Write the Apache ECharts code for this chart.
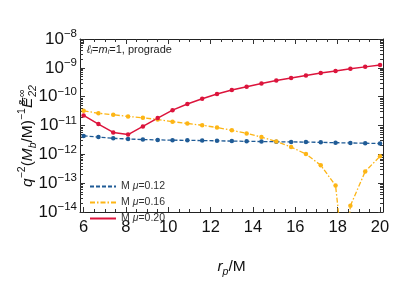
<!DOCTYPE html>
<html><head><meta charset="utf-8">
<script src="https://cdn.jsdelivr.net/npm/echarts@6/dist/echarts.min.js"></script>
<style>html,body{margin:0;padding:0;background:#fff}#c{width:399px;height:283px}</style>
</head><body><div id="c"></div>
<script>
// ---- data ----
const rp = [6.0, 6.7, 7.4, 8.1, 8.8, 9.5, 10.2, 10.9, 11.6, 12.3, 13.0, 13.7, 14.4, 15.1, 15.8, 16.5, 17.2, 17.9, 18.6, 19.3, 20.0];
const mu012 = [4.36e-12, 3.96e-12, 3.60e-12, 3.42e-12, 3.25e-12, 3.17e-12, 3.10e-12, 3.05e-12, 3.01e-12, 2.94e-12, 2.88e-12, 2.82e-12, 2.78e-12, 2.74e-12, 2.70e-12, 2.66e-12, 2.60e-12, 2.54e-12, 2.48e-12, 2.43e-12, 2.36e-12];
const mu016 = [3.23e-11, 2.66e-11, 2.35e-11, 2.07e-11, 1.84e-11, 1.62e-11, 1.36e-11, 1.18e-11, 1.02e-11, 8.51e-12, 6.81e-12, 5.33e-12, 3.96e-12, 2.80e-12, 1.79e-12, 1.02e-12, 4.20e-13, 8.22e-14, 1.64e-14, 2.55e-13, 8.55e-13];
const mu020 = [2.23e-11, 1.12e-11, 5.74e-12, 4.84e-12, 9.30e-12, 1.81e-11, 3.40e-11, 5.58e-11, 8.46e-11, 1.23e-10, 1.70e-10, 2.22e-10, 2.85e-10, 3.64e-10, 4.45e-10, 5.40e-10, 6.59e-10, 7.81e-10, 9.33e-10, 1.08e-9, 1.26e-9];
// zero crossing of the mu=0.16 curve (goes below the plot range)
const mu016ZeroX = 18.33;
const mu016ZeroY = 1e-16;
const names = ['M μ=0.12', 'M μ=0.16', 'M μ=0.20'];
const legendLabels = ['{n|M }{i|μ}{n|=0.12}', '{n|M }{i|μ}{n|=0.16}', '{n|M }{i|μ}{n|=0.20}'];
const xTickLabels = [6, 8, 10, 12, 14, 16, 18, 20];
const xMinorTicks = [6, 6.5, 7, 7.5, 8, 8.5, 9, 9.5, 10, 10.5, 11, 11.5, 12, 12.5, 13, 13.5, 14, 14.5, 15, 15.5, 16, 16.5, 17, 17.5, 18, 18.5, 19, 19.5, 20];
const yExps = [-14, -13, -12, -11, -10, -9, -8];
const colors = ['#1f5b96', '#fdb515', '#dc143c'];

const FONT = 'Liberation Sans';
const yMajor = yExps.map(e => Math.pow(10, e));
const yMinor = [];
yExps.slice(0, -1).forEach(e => { for (let k = 2; k <= 9; k++) yMinor.push(k * Math.pow(10, e)); });

const xr = {min: 5.83, max: 20.14};
const frame = {lineStyle: {color: '#222', width: 1}};
function xAx(pos, ticks, len, main) {
  return {
    type: 'value', position: pos, min: xr.min, max: xr.max,
    axisLine: main ? Object.assign({show: true}, frame) : {show: false},
    axisTick: {show: true, inside: true, length: len, customValues: ticks, lineStyle: {color: '#333'}},
    axisLabel: {show: false},
    splitLine: {show: false}
  };
}
function yAx(pos, ticks, len, main) {
  return {
    type: 'log', logBase: 10, position: pos, min: 1e-14, max: 1e-8,
    axisLine: main ? Object.assign({show: true}, frame) : {show: false},
    axisTick: {show: true, inside: true, length: len, customValues: ticks, lineStyle: {color: '#333'}},
    axisLabel: {show: false},
    splitLine: {show: false}
  };
}
const xa0 = xAx('bottom', xTickLabels, 5, true);
xa0.axisLabel = {show: true, customValues: xTickLabels, fontFamily: FONT, fontSize: 16.5, color: '#111', margin: 7};
xa0.name = '{i|r}{s|p}{n|/M}';
xa0.nameLocation = 'middle';
xa0.nameGap = 44;
xa0.nameTextStyle = {rich: {
  i: {fontFamily: FONT, fontStyle: 'italic', fontSize: 15.5, color: '#111', lineHeight: 22, verticalAlign: 'middle'},
  s: {fontFamily: FONT, fontStyle: 'italic', fontSize: 10.5, color: '#111', lineHeight: 12, verticalAlign: 'bottom'},
  n: {fontFamily: FONT, fontSize: 15.5, color: '#111', lineHeight: 22, verticalAlign: 'middle'}
}};
const ya0 = yAx('left', yMajor, 5, true);
ya0.axisLabel = {show: true, customValues: yMajor, margin: 3,
  formatter: v => '{b|10}{e|' + '−' + Math.abs(Math.round(Math.log10(v))) + '}',
  rich: {
    b: {fontFamily: FONT, fontSize: 17, color: '#111', lineHeight: 22, verticalAlign: 'middle'},
    e: {fontFamily: FONT, fontSize: 11.5, color: '#111', lineHeight: 11, verticalAlign: 'top'}
  }};

const sym = 4.5;
const option = {
  animation: false,
  backgroundColor: '#fff',
  grid: {left: 80, right: 16, top: 39, bottom: 57},
  xAxis: [xa0, xAx('bottom', xMinorTicks, 3, false), xAx('top', xTickLabels, 5, true), xAx('top', xMinorTicks, 3, false)],
  yAxis: [ya0, yAx('left', yMinor, 3, false), yAx('right', yMajor, 5, true), yAx('right', yMinor, 3, false)],
  legend: {
    orient: 'vertical', left: 84, top: 176, itemWidth: 26, itemHeight: 10, itemGap: 5,
    data: names,
    itemStyle: {opacity: 0},
    formatter: n => legendLabels[names.indexOf(n)],
    textStyle: {rich: {
      n: {fontFamily: FONT, fontSize: 10.5, color: '#333'},
      i: {fontFamily: FONT, fontSize: 10.5, fontStyle: 'italic', color: '#333'}
    }}
  },
  graphic: [
    {type: 'text', left: 87, top: 44, style: {
      text: '{i|ℓ}{s|i}{n|=}{i|m}{s|i}{n|=1, prograde}',
      rich: {
        i: {fontFamily: FONT, fontSize: 11, fontStyle: 'italic', fill: '#222', lineHeight: 13, verticalAlign: 'middle'},
        s: {fontFamily: FONT, fontSize: 7, fontStyle: 'italic', fill: '#222', lineHeight: 7, verticalAlign: 'bottom'},
        n: {fontFamily: FONT, fontSize: 11, fill: '#222', lineHeight: 13, verticalAlign: 'middle'}
      }}},
    {type: 'text', x: 28, y: 136, rotation: Math.PI / 2, style: {
      text: '{i|q}{sp|−2}{n|(}{i|M}{sb|b}{n|/M)}{sp|−1}{i|Ė}{z|s,∞}{sb|22}',
      align: 'center', verticalAlign: 'middle',
      rich: {
        i: {fontFamily: FONT, fontSize: 15.5, fontStyle: 'italic', fill: '#111', lineHeight: 22, verticalAlign: 'middle'},
        n: {fontFamily: FONT, fontSize: 15.5, fill: '#111', lineHeight: 22, verticalAlign: 'middle'},
        sp: {fontFamily: FONT, fontSize: 10.5, fill: '#111', lineHeight: 10, verticalAlign: 'top'},
        z: {fontFamily: FONT, fontSize: 10.5, fontStyle: 'italic', fill: '#111', lineHeight: 10, verticalAlign: 'top', width: 1},
        sb: {fontFamily: FONT, fontSize: 10.5, fontStyle: 'italic', fill: '#111', lineHeight: 10, verticalAlign: 'bottom'}
      }}}
  ],
  series: [
    {name: names[0], type: 'line', xAxisIndex: 0, yAxisIndex: 0, data: rp.map((x, i) => [x, mu012[i]]),
     symbol: 'circle', symbolSize: sym, itemStyle: {color: colors[0]},
     lineStyle: {color: colors[0], width: 1.3, type: [4, 2]}},
    {name: names[1], type: 'line', xAxisIndex: 0, yAxisIndex: 0, clip: true,
     data: rp.map((x, i) => [x, mu016[i]]).concat([{value: [mu016ZeroX, mu016ZeroY], symbol: 'none'}]).sort((a, b) => (a.value || a)[0] - (b.value || b)[0]),
     symbol: 'circle', symbolSize: sym, itemStyle: {color: colors[1]},
     lineStyle: {color: colors[1], width: 1.3, type: [5, 2, 1.5, 2]}},
    {name: names[2], type: 'line', xAxisIndex: 0, yAxisIndex: 0, data: rp.map((x, i) => [x, mu020[i]]),
     symbol: 'circle', symbolSize: sym, itemStyle: {color: colors[2]},
     lineStyle: {color: colors[2], width: 1.5}}
  ]
};
const chart = echarts.init(document.getElementById('c'), null, {renderer: 'canvas'});
chart.setOption(option);
</script></body></html>
